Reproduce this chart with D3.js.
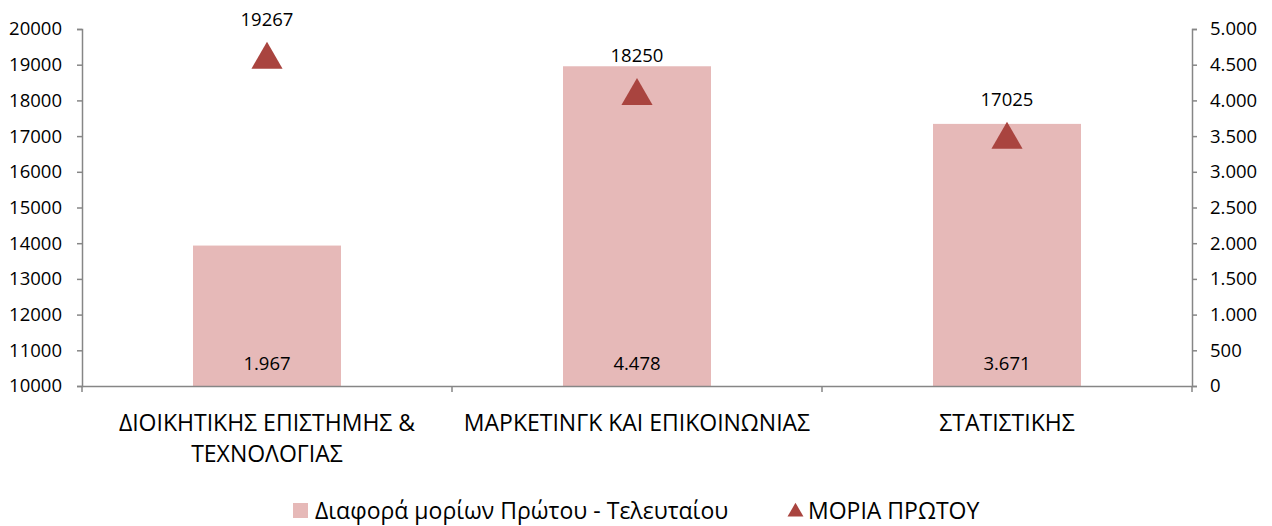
<!DOCTYPE html>
<html><head><meta charset="utf-8">
<script src="https://cdn.jsdelivr.net/npm/d3@7"></script>
<style>body{margin:0;background:#fff;} text{font-family:"Open Sans",sans-serif;fill:#000;}</style>
</head><body><svg id="c" width="1272" height="526"></svg>
<script>
const categories = [["ΔΙΟΙΚΗΤΙΚΗΣ ΕΠΙΣΤΗΜΗΣ &","ΤΕΧΝΟΛΟΓΙΑΣ"],["ΜΑΡΚΕΤΙΝΓΚ ΚΑΙ ΕΠΙΚΟΙΝΩΝΙΑΣ"],["ΣΤΑΤΙΣΤΙΚΗΣ"]];
const diffValues = [1967, 4478, 3671];
const firstValues = [19267, 18250, 17025];
const leftTicks = [10000,11000,12000,13000,14000,15000,16000,17000,18000,19000,20000];
const rightTicks = [0,500,1000,1500,2000,2500,3000,3500,4000,4500,5000];
const seriesNames = ["Διαφορά μορίων Πρώτου - Τελευταίου","ΜΟΡΙΑ ΠΡΩΤΟΥ"];

const svg = d3.select("#c");
const L=82, R=1192, T=29, B=386;
const x = d3.scaleBand().domain(d3.range(categories.length)).range([L,R]).paddingInner(0.6).paddingOuter(0.3);
const xc = d3.scaleBand().domain(d3.range(categories.length)).range([L,R]);
const yL = d3.scaleLinear().domain([10000,20000]).range([B,T]);
const yR = d3.scaleLinear().domain([0,5000]).range([B,T]);
const barColor="#E6B9B8", triColor="#A9443F", axisColor="#868686";
const fmt = v => d3.format(",")(v).replace(/,/g,".");
const FF = "Open Sans", NUM = 18.5;

// bars
svg.selectAll("rect.bar").data(diffValues).join("rect").attr("class","bar")
  .attr("x",(d,i)=>x(i)).attr("width",x.bandwidth())
  .attr("y",d=>yR(d)).attr("height",d=>B-yR(d)).attr("fill",barColor);
svg.selectAll("text.bl").data(diffValues).join("text").attr("class","bl")
  .attr("x",(d,i)=>x(i)+x.bandwidth()/2).attr("y",370).attr("text-anchor","middle")
  .attr("font-size",NUM).text(d=>fmt(d));

// axes
const gL = svg.append("g").attr("transform",`translate(${L},0)`)
  .call(d3.axisLeft(yL).tickValues(leftTicks).tickSize(5).tickPadding(15).tickFormat(d3.format("d")));
const gR = svg.append("g").attr("transform",`translate(${R},0)`)
  .call(d3.axisRight(yR).tickValues(rightTicks).tickSize(5).tickPadding(13).tickFormat(fmt));
const gB = svg.append("g").attr("transform",`translate(0,${B})`)
  .call(d3.axisBottom(xc).tickValues([]).tickSizeOuter(0));
[gL,gR].forEach(g=>{g.selectAll("text").attr("font-size",NUM).style("font-family",FF);});
gB.select(".domain").attr("d",`M${L},0.5H${R}`);
gB.selectAll("line.sep").data(d3.range(categories.length+1)).join("line").attr("class","sep")
  .attr("x1",i=>L+i*xc.bandwidth()).attr("x2",i=>L+i*xc.bandwidth()).attr("y1",0).attr("y2",6);
svg.selectAll(".domain, .tick line, line.sep").attr("stroke",axisColor).attr("stroke-width",1.5);

// category labels
categories.forEach((lines,i)=>{
  const cx = xc(i)+xc.bandwidth()/2;
  const t = svg.append("text").attr("x",cx).attr("y",431).attr("text-anchor","middle").attr("font-size",23);
  lines.forEach((l,j)=>t.append("tspan").attr("x",cx).attr("dy",j?31:0).text(l));
});

// triangles (bbox centred on value)
const triSize = 420;
const triSide = Math.sqrt(triSize*4/Math.sqrt(3)), triOff = triSide*Math.sqrt(3)/2/6;
svg.selectAll("path.tri").data(firstValues).join("path").attr("class","tri")
  .attr("transform",(d,i)=>`translate(${xc(i)+xc.bandwidth()/2},${yL(d)+triOff})`)
  .attr("d",d3.symbol().type(d3.symbolTriangle).size(triSize)).attr("fill",triColor);
svg.selectAll("text.tl").data(firstValues).join("text").attr("class","tl")
  .attr("x",(d,i)=>xc(i)+xc.bandwidth()/2).attr("y",d=>yL(d)-29).attr("text-anchor","middle")
  .attr("font-size",NUM).text(d=>d);

// legend
const lg = svg.append("g");
lg.append("rect").attr("x",293).attr("y",503).attr("width",15).attr("height",15).attr("fill",barColor);
lg.append("text").attr("x",315).attr("y",519).attr("font-size",23).text(seriesNames[0]);
lg.append("path").attr("transform","translate(795.5,512)").attr("d",d3.symbol().type(d3.symbolTriangle).size(110)).attr("fill",triColor);
lg.append("text").attr("x",808).attr("y",519).attr("font-size",23).text(seriesNames[1]);
</script></body></html>
